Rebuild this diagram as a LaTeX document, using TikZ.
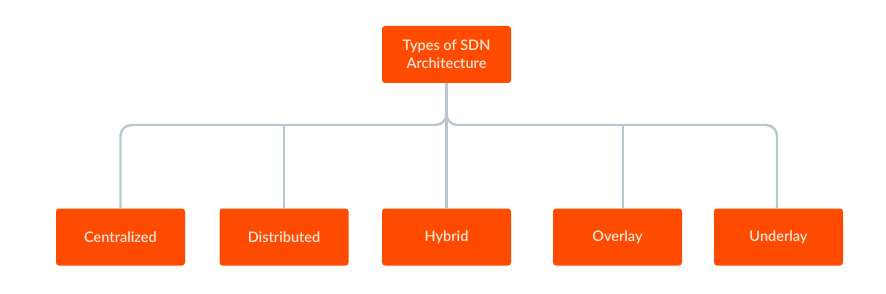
\documentclass[tikz,border=0pt]{standalone}
\usepackage{fontspec}
\setmainfont{Lato}[BoldFont = Lato Semibold]
\usetikzlibrary{positioning}
\definecolor{boxorange}{HTML}{FF4B00}
\definecolor{boxtext}{HTML}{FCE6DA}
\definecolor{linkgray}{HTML}{B9C8CF}
\tikzset{
	typebox/.style = {fill = boxorange, rounded corners = 3pt, text = boxtext, minimum width = 129pt, minimum height = 57pt, align = center, font = \bfseries\fontsize{14.5}{18}\selectfont},
	link/.style = {draw = linkgray, line width = 2.4pt, rounded corners = 11pt}
}
\begin{document}
\begin{tikzpicture}[x = 1pt, y = -1pt]
	\useasboundingbox [fill = white] (0,0) rectangle (886,294);
	\node [typebox] (top) at (446.5,54.5) {Types of SDN\\Architecture};
	\node [typebox] (cen) at (120.5,237) {Centralized};
	\node [typebox] (dis) at (284,237) {Distributed};
	\node [typebox] (hyb) at (446.5,237) {Hybrid};
	\node [typebox] (ove) at (617.5,237) {Overlay};
	\node [typebox] (und) at (778.5,237) {Underlay};
	\coordinate (bus) at (446.5,125);
	% connectors
	\draw [link] (cen.north) |- (bus) -- (top.south);
	\draw [link] ([xshift = -1.5pt]und.north) |- (bus) -- (top.south);
	\draw [link] (top.south) -- (hyb.north);
	\draw [link] (dis.north |- bus) -- (dis.north);
	\draw [link] ([xshift = 5.5pt]ove.north |- bus) -- ([xshift = 5.5pt]ove.north);
\end{tikzpicture}
\end{document}
